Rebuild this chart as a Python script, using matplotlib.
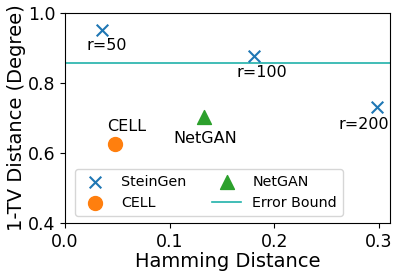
import matplotlib
matplotlib.use('Agg')
import matplotlib.pyplot as plt

# data
stein_x = [0.035, 0.181, 0.298]
stein_y = [0.951, 0.877, 0.731]
stein_labels = ['r=50', 'r=100', 'r=200']
cell_x, cell_y = 0.048, 0.626
netgan_x, netgan_y = 0.133, 0.703
error_bound = 0.857

fig = plt.figure(figsize=(3.99, 2.77), dpi=100)
ax = fig.add_axes([0.163, 0.195, 0.815, 0.758])

ax.scatter(stein_x, stein_y, marker='x', color='tab:blue', s=70, linewidths=1.5, label='SteinGen', zorder=3)
ax.scatter([cell_x], [cell_y], marker='o', color='tab:orange', s=100, label='CELL', zorder=3)
ax.scatter([netgan_x], [netgan_y], marker='^', color='tab:green', s=100, label='NetGAN', zorder=3)
ax.axhline(error_bound, color='lightseagreen', linewidth=1.2, label='Error Bound')

offsets = [(0.005, -0.043), (0.007, -0.046), (-0.012, -0.05)]
for x, y, lab, (dx, dy) in zip(stein_x, stein_y, stein_labels, offsets):
    ax.text(x + dx, y + dy, lab, ha='center', va='center', fontsize=11.5)
ax.text(cell_x + 0.011, cell_y + 0.05, 'CELL', ha='center', va='center', fontsize=11.5)
ax.text(netgan_x + 0.001, netgan_y - 0.062, 'NetGAN', ha='center', va='center', fontsize=11.5)

ax.set_xlim(0, 0.311)
ax.set_ylim(0.4, 1.0)
ax.set_xticks([0.0, 0.1, 0.2, 0.3])
ax.set_yticks([0.4, 0.6, 0.8, 1.0])
ax.tick_params(labelsize=12.5)
ax.set_xlabel('Hamming Distance', fontsize=14, labelpad=1)
ax.set_ylabel('1-TV Distance (Degree)', fontsize=14, labelpad=1)
ax.legend(loc='lower left', ncol=2, fontsize=10.3, bbox_to_anchor=(0.01, 0.0), columnspacing=1.8)

plt.savefig('out.png', dpi=100)
